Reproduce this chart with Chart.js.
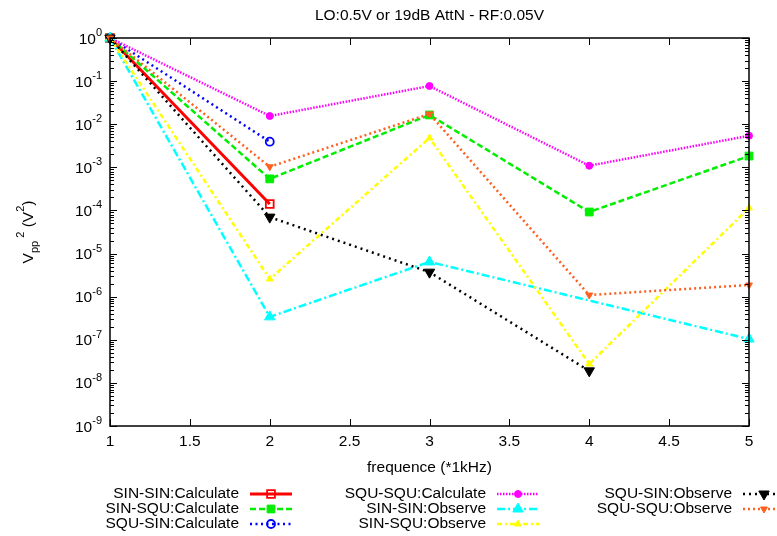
<!DOCTYPE html>
<html>
<head>
<meta charset="utf-8">
<script src="https://cdn.jsdelivr.net/npm/chart.js@4/dist/chart.umd.min.js"></script>
<style>
  body { margin: 0; background: #fff; }
  canvas { display: block; }
</style>
</head>
<body>
<canvas id="chart" width="777" height="536"></canvas>
<script>
const xValues = [1, 2, 3, 4, 5];
const xTicks = [1, 1.5, 2, 2.5, 3, 3.5, 4, 4.5, 5];
const yDecades = [0, -1, -2, -3, -4, -5, -6, -7, -8, -9];

// values, null = no point
const sinSinCalc = [1, 1.41e-4];
const sinSquCalc = [1, 5.4e-4, 1.64e-2, 9.2e-5, 1.83e-3];
const squSinCalc = [1, 3.93e-3];
const squSquCalc = [1, 1.55e-2, 7.7e-2, 1.09e-3, 5.4e-3];
const sinSinObs = [1, 3.4e-7, 6.4e-6, null, 1.04e-7];
const sinSquObs = [1, 2.57e-6, 4.8e-3, 2.74e-8, 1.14e-4];
const squSinObs = [1, 7.0e-5, 3.7e-6, 1.9e-8];
const squSquObs = [1, 1.03e-3, 1.73e-2, 1.09e-6, 1.86e-6];

const titleText = "LO:0.5V or 19dB AttN - RF:0.05V";
const xLabel = "frequence (*1kHz)";
const FONT = "Liberation Sans, Arial, sans-serif";
const FS = 15.5;   // main text size
const SS = 11;     // super/subscript size

function pts(vals) {
  const out = [];
  vals.forEach((v, i) => { if (v !== null) out.push({ x: xValues[i], y: v }); });
  return out;
}

function ds(label, vals, color, width, dash, style, radius, filled, rotation, i) {
  return {
    label: label,
    data: pts(vals),
    borderColor: color,
    backgroundColor: color,
    borderWidth: width,
    borderDash: dash,
    borderCapStyle: "butt",
    pointStyle: style,
    pointRadius: radius,
    pointHoverRadius: radius,
    pointBorderColor: color,
    pointBackgroundColor: filled ? color : "rgba(0,0,0,0)",
    pointBorderWidth: filled ? 1 : 1.8,
    pointRotation: rotation,
    tension: 0,
    clip: false,
    order: 10 - i
  };
}

const datasets = [
  ds("SIN-SIN:Calculate", sinSinCalc, "#ff0000", 3, [], "rect", 5.5, false, 0, 0),
  ds("SIN-SQU:Calculate", sinSquCalc, "#00ee00", 2.5, [6, 3], "rect", 5.5, true, 0, 1),
  ds("SQU-SIN:Calculate", squSinCalc, "#0000ff", 2.5, [2, 3.5], "circle", 4, false, 0, 2),
  ds("SQU-SQU:Calculate", squSquCalc, "#ff00ff", 2.5, [1.5, 1.5], "circle", 3.5, true, 0, 3),
  ds("SIN-SIN:Observe", sinSinObs, "#00ffff", 2.5, [8, 3, 2, 3], "triangle", 6, true, 0, 4),
  ds("SIN-SQU:Observe", sinSquObs, "#ffff00", 2.5, [5, 3, 2, 3], "triangle", 4, true, 0, 5),
  ds("SQU-SIN:Observe", squSinObs, "#000000", 2.5, [2, 4], "triangle", 6, true, 180, 6),
  ds("SQU-SQU:Observe", squSquObs, "#ff6020", 2.5, [2, 3], "triangle", 4, true, 180, 7)
];

function supLabel(ctx, x, y, base, sup) {
  // right-aligned "base^sup", base centred on y
  ctx.font = FS + "px " + FONT;
  const bw = ctx.measureText(base).width;
  ctx.font = SS + "px " + FONT;
  const sw = ctx.measureText(sup).width;
  ctx.textAlign = "left";
  ctx.textBaseline = "alphabetic";
  ctx.font = FS + "px " + FONT;
  ctx.fillText(base, x - sw - bw, y + 5.5);
  ctx.font = SS + "px " + FONT;
  ctx.fillText(sup, x - sw, y - 2);
}

const framePlugin = {
  id: "frame",
  afterDraw(chart) {
    const ctx = chart.ctx;
    const a = chart.chartArea;
    const xs = chart.scales.x, ys = chart.scales.y;
    ctx.save();
    ctx.fillStyle = "#000";
    ctx.strokeStyle = "#000";
    ctx.lineWidth = 1.5;
    ctx.setLineDash([]);
    ctx.strokeRect(a.left, a.top, a.right - a.left, a.bottom - a.top);

    // ticks
    ctx.lineWidth = 1;
    ctx.beginPath();
    xTicks.forEach(t => {
      const px = Math.round(xs.getPixelForValue(t)) + 0.5;
      ctx.moveTo(px, a.bottom); ctx.lineTo(px, a.bottom - 7);
      ctx.moveTo(px, a.top); ctx.lineTo(px, a.top + 7);
    });
    yDecades.forEach(e => {
      const py = Math.round(ys.getPixelForValue(Math.pow(10, e))) + 0.5;
      ctx.moveTo(a.left, py); ctx.lineTo(a.left + 7, py);
      ctx.moveTo(a.right, py); ctx.lineTo(a.right - 7, py);
      if (e < 0) {
        for (let k = 2; k <= 9; k++) {
          const my = Math.round(ys.getPixelForValue(k * Math.pow(10, e))) + 0.5;
          ctx.moveTo(a.left, my); ctx.lineTo(a.left + 4, my);
          ctx.moveTo(a.right, my); ctx.lineTo(a.right - 4, my);
        }
      }
    });
    ctx.stroke();

    // tick labels
    yDecades.forEach(e => {
      const py = ys.getPixelForValue(Math.pow(10, e));
      supLabel(ctx, 102, py, "10", String(e));
    });
    ctx.font = FS + "px " + FONT;
    ctx.textAlign = "center";
    ctx.textBaseline = "middle";
    xTicks.forEach(t => {
      ctx.fillText(String(t), xs.getPixelForValue(t), a.bottom + 16);
    });

    // title and x label
    const cx = (a.left + a.right) / 2;
    ctx.fillText(titleText, cx, 16);
    ctx.fillText(xLabel, cx, 468);

    // y label  V_pp^2 (V^2)
    ctx.save();
    ctx.translate(33, (a.top + a.bottom) / 2);
    ctx.rotate(-Math.PI / 2);
    const parts = [
      ["V", FS, 0], ["pp", SS, 5], [" 2", SS, -9], [" (V", FS, 0], ["2", SS, -9], [")", FS, 0]
    ];
    let total = 0;
    parts.forEach(p => { ctx.font = p[1] + "px " + FONT; total += ctx.measureText(p[0]).width; });
    let px = -total / 2;
    ctx.textAlign = "left";
    ctx.textBaseline = "alphabetic";
    parts.forEach(p => {
      ctx.font = p[1] + "px " + FONT;
      ctx.fillText(p[0], px, p[2]);
      px += ctx.measureText(p[0]).width;
    });
    ctx.restore();

    // legend, three columns
    const cols = [[239, 250], [486, 497], [732, 743]];
    const rowsY = [494, 509, 524];
    const colOf = [0, 0, 0, 1, 1, 1, 2, 2];
    const rowOf = [0, 1, 2, 0, 1, 2, 0, 1];
    chart.data.datasets.forEach((d, i) => {
      const c = cols[colOf[i]], y = rowsY[rowOf[i]];
      ctx.font = FS + "px " + FONT;
      ctx.fillStyle = "#000";
      ctx.textAlign = "right";
      ctx.textBaseline = "middle";
      ctx.fillText(d.label, c[0], y);
      ctx.strokeStyle = d.borderColor;
      ctx.lineWidth = d.borderWidth;
      ctx.lineCap = "butt";
      ctx.setLineDash(d.borderDash);
      ctx.beginPath();
      ctx.moveTo(c[1], y); ctx.lineTo(c[1] + 42, y);
      ctx.stroke();
      ctx.setLineDash([]);
      ctx.fillStyle = d.pointBackgroundColor;
      ctx.strokeStyle = d.pointBorderColor;
      ctx.lineWidth = d.pointBorderWidth;
      Chart.helpers.drawPoint(ctx, {
        pointStyle: d.pointStyle, radius: d.pointRadius,
        rotation: d.pointRotation, borderWidth: d.pointBorderWidth
      }, c[1] + 21, y);
    });
    ctx.restore();
  }
};

new Chart(document.getElementById("chart"), {
  type: "line",
  data: { datasets: datasets },
  options: {
    responsive: false,
    devicePixelRatio: 1,
    animation: false,
    layout: { padding: { left: 110, right: 28, top: 38, bottom: 110 } },
    plugins: { legend: { display: false }, title: { display: false }, tooltip: { enabled: false } },
    scales: {
      x: { type: "linear", min: 1, max: 5, display: false },
      y: { type: "logarithmic", min: 1e-9, max: 1, display: false }
    }
  },
  plugins: [framePlugin]
});
</script>
</body>
</html>
